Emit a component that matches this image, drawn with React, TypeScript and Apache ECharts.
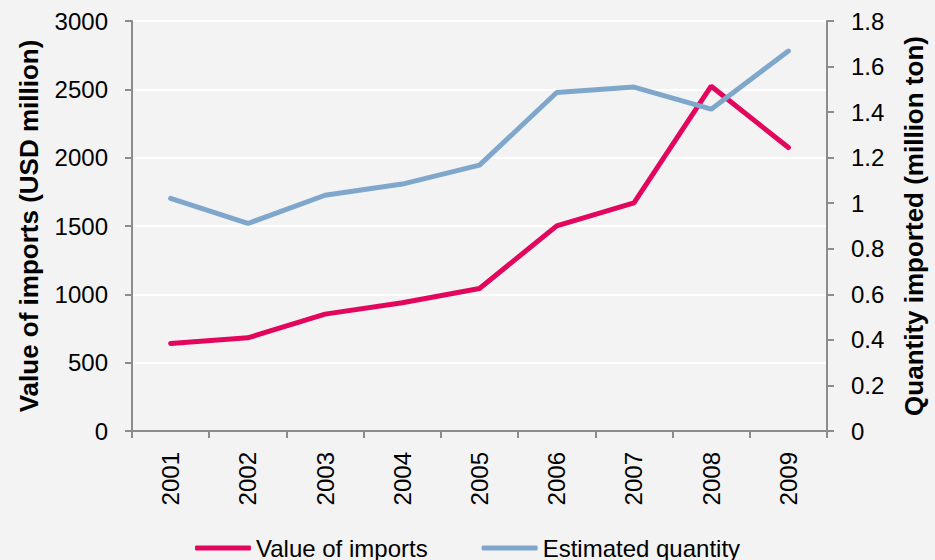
import React, { useEffect, useRef } from "react";
import * as echarts from "echarts";

const years = ["2001", "2002", "2003", "2004", "2005", "2006", "2007", "2008", "2009"];
const valueOfImports = [641, 682, 855, 938, 1043, 1501, 1669, 2523, 2074];
const estimatedQuantity = [1.021, 0.911, 1.035, 1.084, 1.167, 1.486, 1.51, 1.413, 1.668];
const leftTitle = "Value of imports (USD million)";
const rightTitle = "Quantity imported (million ton)";

export default function App() {
  const ref = useRef<HTMLDivElement>(null);
  useEffect(() => {
    document.body.style.margin = "0";
    const chart = echarts.init(ref.current!, null, { renderer: "svg" });
    const font = "Liberation Sans, Arial, sans-serif";
    const axisLine = { show: true, lineStyle: { color: "#8c8c8c", width: 2 } };
    chart.setOption({
      animation: false,
      backgroundColor: "#f3f3f4",
      textStyle: { fontFamily: font },
      grid: { left: 132, right: 99, top: 21, bottom: 129 },
      legend: {
        left: 190,
        top: 530,
        itemWidth: 56,
        itemHeight: 5,
        itemGap: 54,
        icon: "roundRect",
        textStyle: { fontSize: 24, color: "#000", fontFamily: font, lineHeight: 26 },
        data: ["Value of imports", "Estimated quantity"],
      },
      xAxis: {
        type: "category",
        data: years,
        boundaryGap: true,
        axisLine,
        axisTick: { show: true, length: 7, lineStyle: { color: "#8c8c8c", width: 2 } },
        axisLabel: { rotate: 90, fontSize: 24, color: "#000", margin: 21, fontFamily: font },
      },
      yAxis: [
        {
          type: "value",
          min: 0,
          max: 3000,
          interval: 500,
          name: leftTitle,
          nameLocation: "middle",
          nameRotate: 90,
          nameGap: 90,
          nameTextStyle: { fontSize: 26, fontWeight: "bold", color: "#000", fontFamily: font },
          axisLine,
          axisTick: { show: true, length: 7, lineStyle: { color: "#8c8c8c", width: 2 } },
          axisLabel: {
            fontSize: 24,
            color: "#000",
            margin: 24,
            fontFamily: font,
            formatter: (v: number) => String(v),
          },
          splitLine: { show: true, lineStyle: { color: "#ffffff", width: 2 } },
        },
        {
          type: "value",
          min: 0,
          max: 1.8,
          interval: 0.2,
          position: "right",
          name: rightTitle,
          nameLocation: "middle",
          nameRotate: 90,
          nameGap: 74,
          nameTextStyle: { fontSize: 26, fontWeight: "bold", color: "#000", fontFamily: font },
          axisLine,
          axisTick: { show: true, length: 7, lineStyle: { color: "#8c8c8c", width: 2 } },
          axisLabel: {
            fontSize: 24,
            color: "#000",
            margin: 24,
            fontFamily: font,
            formatter: (v: number) => String(Math.round(v * 10) / 10),
          },
          splitLine: { show: false },
        },
      ],
      series: [
        {
          name: "Value of imports",
          type: "line",
          yAxisIndex: 0,
          data: valueOfImports,
          showSymbol: false,
          symbol: "none",
          color: "#e3065d",
          lineStyle: { width: 5, color: "#e3065d", cap: "round" },
        },
        {
          name: "Estimated quantity",
          type: "line",
          yAxisIndex: 1,
          data: estimatedQuantity,
          showSymbol: false,
          symbol: "none",
          color: "#7fa7cb",
          lineStyle: { width: 5, color: "#7fa7cb", cap: "round" },
        },
      ],
    });
    return () => chart.dispose();
  }, []);
  return <div ref={ref} style={{ position: "fixed", left: 0, top: 0, width: 935, height: 560 }} />;
}
